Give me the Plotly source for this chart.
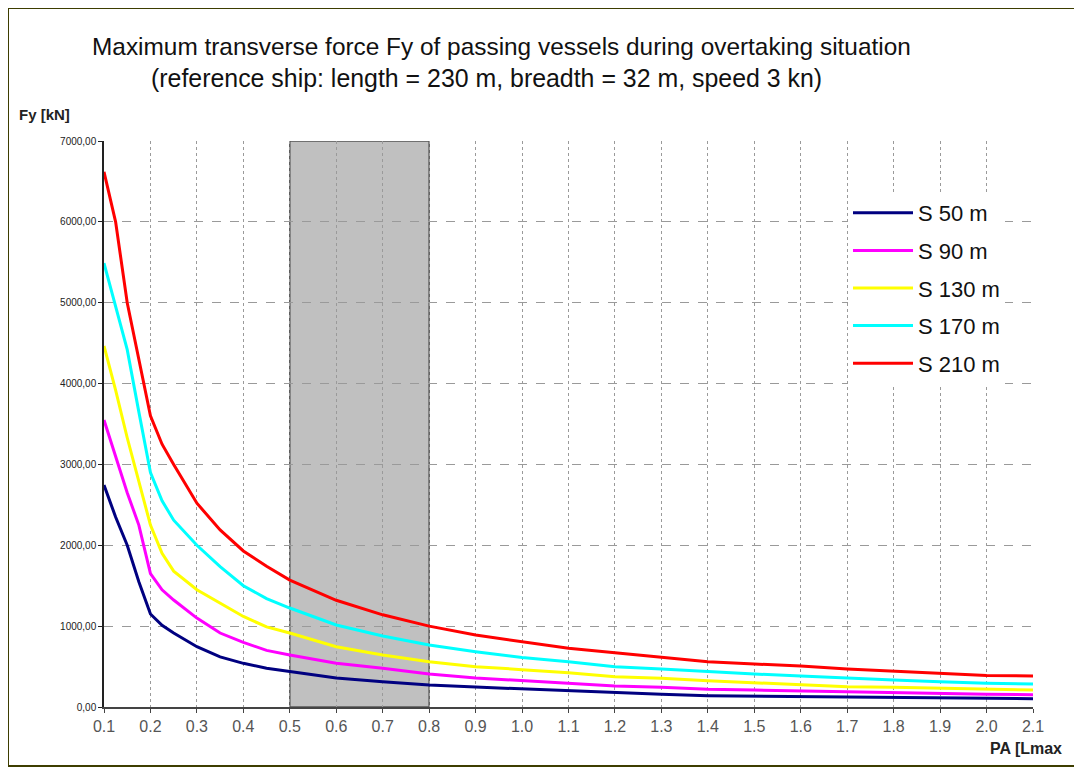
import plotly.graph_objects as go

# ---- data ----
pa = [0.1, 0.125, 0.15, 0.175, 0.2, 0.225, 0.25, 0.3, 0.35, 0.4, 0.45, 0.5, 0.6, 0.7, 0.8, 0.9,
      1.0, 1.1, 1.2, 1.3, 1.4, 1.5, 1.6, 1.7, 1.8, 1.9, 2.0, 2.1]

s50 = [2745, 2350, 2000, 1550, 1150, 1010, 915, 746, 620, 540, 480, 437, 359, 313, 272, 247,
       223, 198, 177, 157, 140, 136, 128, 124, 115, 111, 107, 103]
s90 = [3550, 3100, 2650, 2250, 1650, 1450, 1323, 1100, 915, 800, 700, 643, 540, 480, 408, 359,
       324, 293, 260, 244, 219, 210, 198, 190, 177, 169, 157, 152]
s130 = [4465, 3920, 3330, 2800, 2250, 1900, 1680, 1450, 1286, 1120, 990, 915, 746, 643, 560, 499,
        462, 424, 375, 355, 325, 301, 272, 251, 244, 231, 219, 210]
s170 = [5490, 4950, 4420, 3650, 2900, 2550, 2310, 2000, 1735, 1500, 1340, 1224, 1014, 878, 767, 684,
        612, 560, 499, 470, 437, 408, 383, 363, 334, 313, 293, 284]
s210 = [6620, 6000, 5000, 4300, 3600, 3250, 3000, 2520, 2190, 1930, 1740, 1570, 1320, 1140, 1000, 890,
        805, 726, 672, 614, 560, 532, 507, 470, 445, 424, 390, 383]

series_names = ["S 50 m", "S 90 m", "S 130 m", "S 170 m", "S 210 m"]
series_values = [s50, s90, s130, s170, s210]
series_colors = ["#000080", "#ff00ff", "#ffff00", "#00ffff", "#ff0000"]

x_ticks = [round(0.1 + 0.1 * i, 1) for i in range(21)]
x_ticktext = ["%.1f" % v for v in x_ticks]
y_ticks = [0, 1000, 2000, 3000, 4000, 5000, 6000, 7000]
y_ticktext = ["0,00", "1000,00", "2000,00", "3000,00", "4000,00", "5000,00", "6000,00", "7000,00"]

band = (0.5, 0.8)

FONT = "Liberation Sans, Arial, sans-serif"

fig = go.Figure()
for name, vals, col in zip(series_names, series_values, series_colors):
    fig.add_trace(go.Scatter(x=pa, y=vals, mode="lines", name=name,
                             legendgroup=name,
                             line=dict(color=col, width=3)))

# page is offset by the 8px body margin, so work in page px minus 8
OFF = 8
W, H = 1082, 772
pw, ph = 929, 566
L, T = 104 - OFF, 141 - OFF
R, B = W - L - pw, H - T - ph

def px2paper_x(px):
    return (px - OFF - L) / pw

def px2paper_y(py):
    return (T + ph - (py - OFF)) / ph

fig.update_layout(
    width=W, height=H,
    margin=dict(l=L, r=R, t=T, b=B),
    paper_bgcolor="white", plot_bgcolor="white",
    font=dict(family=FONT, color="#111111"),
    showlegend=True,
    legend=dict(x=px2paper_x(848), y=px2paper_y(192), xanchor="left", yanchor="top",
                bgcolor="white", borderwidth=0, tracegroupgap=6,
                font=dict(size=22, family=FONT, color="#111111"),
                itemwidth=60),
    xaxis=dict(range=[0.1, 2.1], tickmode="array", tickvals=x_ticks, ticktext=x_ticktext,
               showgrid=True, gridcolor="#9a9a9a", griddash="dot", gridwidth=1,
               showline=True, linecolor="#444444", linewidth=2,
               ticks="outside", ticklen=4, tickcolor="#444444",
               tickfont=dict(size=16, color="#555555", family=FONT),
               zeroline=False, fixedrange=True),
    yaxis=dict(range=[0, 7000], tickmode="array", tickvals=y_ticks, ticktext=y_ticktext,
               showgrid=True, gridcolor="#9a9a9a", griddash="dash", gridwidth=1,
               showline=True, linecolor="#222222", linewidth=1.5,
               ticks="outside", ticklen=4, tickcolor="#222222",
               tickfont=dict(size=10, color="#222222", family=FONT),
               zeroline=False, fixedrange=True),
)

# shaded PA band
fig.add_shape(type="rect", xref="x", yref="y", x0=band[0], x1=band[1], y0=0, y1=7000,
              fillcolor="#c0c0c0", line=dict(color="#555555", width=1.5), layer="below")

# image frame
fig.add_shape(type="rect", xref="paper", yref="paper",
              x0=px2paper_x(8), x1=px2paper_x(1076), y0=px2paper_y(766), y1=px2paper_y(8),
              line=dict(color="#3d3d00", width=2), fillcolor="rgba(0,0,0,0)", layer="above")

# titles
fig.add_annotation(text="Maximum transverse force Fy of passing vessels during overtaking situation",
                   xref="paper", yref="paper", x=px2paper_x(501), y=px2paper_y(47),
                   xanchor="center", yanchor="middle", showarrow=False,
                   font=dict(size=24.4, family=FONT, color="#111111"))
fig.add_annotation(text="(reference ship: length = 230 m, breadth = 32 m, speed 3 kn)",
                   xref="paper", yref="paper", x=px2paper_x(486), y=px2paper_y(78),
                   xanchor="center", yanchor="middle", showarrow=False,
                   font=dict(size=24.9, family=FONT, color="#111111"))
fig.add_annotation(text="<b>Fy [kN]</b>", xref="paper", yref="paper",
                   x=px2paper_x(17), y=px2paper_y(115), xanchor="left", yanchor="middle",
                   showarrow=False, font=dict(size=15, family=FONT, color="#222222"))
fig.add_annotation(text="<b>PA [Lmax</b>", xref="paper", yref="paper",
                   x=px2paper_x(1064), y=px2paper_y(748), xanchor="right", yanchor="middle",
                   showarrow=False, font=dict(size=16, family=FONT, color="#222222"))

fig.write_html("out.html")
